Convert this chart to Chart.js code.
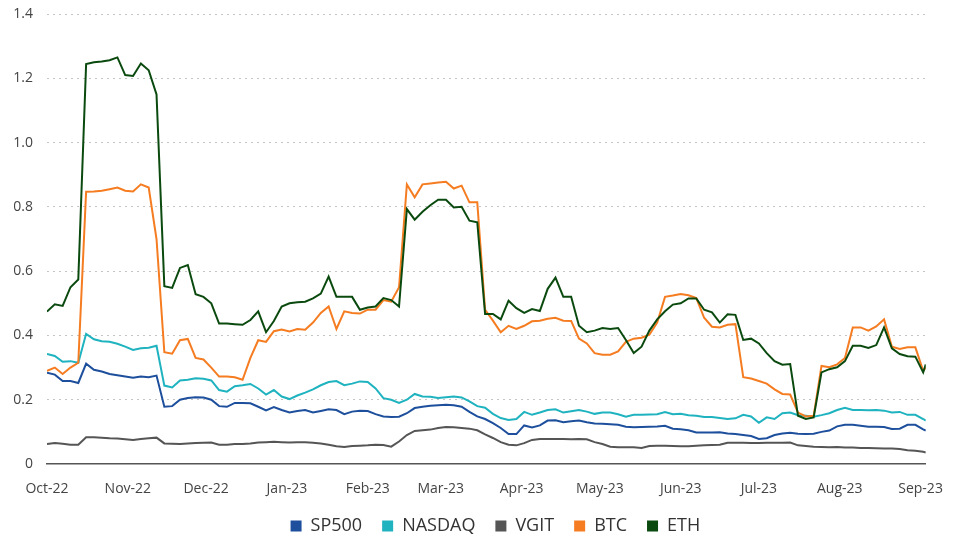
<!DOCTYPE html>
<html>
<head>
<meta charset="utf-8">
<script src="https://cdn.jsdelivr.net/npm/chart.js@4/dist/chart.umd.min.js"></script>
<style>
  html, body { margin: 0; padding: 0; background: #fff; }
  #wrap { width: 960px; height: 540px; }
</style>
</head>
<body>
<div id="wrap"><canvas id="chart"></canvas></div>
<script>
// ==== Data (days since 1 Oct 2022) ====
const days = [0,3,6,9,12,15,18,21,24,27,30,33,36,39,42,45,48,51,54,57,60,63,66,69,72,75,78,81,84,87,
  90,93,96,99,102,105,108,111,114,117,120,123,126,129,132,135,138,141,144,147,150,153,156,159,162,165,168,171,174,177,
  180,183,186,189,192,195,198,201,204,207,210,213,216,219,222,225,228,231,234,237,240,243,246,249,252,255,258,261,264,267,
  270,273,276,279,282,285,288,291,294,297,300,303,306,309,312,315,318,321,324,327,330,333,336,337];

const monthDays = [0,31,61,92,123,151,182,212,243,273,304,335];
const monthLabels = ['Oct-22','Nov-22','Dec-22','Jan-23','Feb-23','Mar-23','Apr-23','May-23','Jun-23','Jul-23','Aug-23','Sep-23'];

const sp500 = [0.284,0.278,0.258,0.258,0.252,0.312,0.293,0.288,0.280,0.276,0.272,0.268,0.272,0.270,0.275,0.178,0.180,0.200,0.205,0.208,
  0.207,0.200,0.180,0.178,0.190,0.190,0.189,0.178,0.167,0.177,0.168,0.160,0.165,0.168,0.160,0.165,0.170,0.168,0.155,0.163,
  0.166,0.165,0.155,0.148,0.146,0.147,0.158,0.174,0.178,0.181,0.183,0.184,0.183,0.178,0.162,0.148,0.140,0.127,0.112,0.093,
  0.093,0.120,0.114,0.120,0.135,0.136,0.130,0.133,0.135,0.130,0.126,0.125,0.124,0.122,0.116,0.114,0.115,0.116,0.117,0.119,
  0.110,0.108,0.105,0.098,0.098,0.098,0.099,0.095,0.093,0.090,0.087,0.078,0.080,0.090,0.095,0.097,0.094,0.093,0.094,0.100,
  0.104,0.117,0.122,0.122,0.119,0.116,0.116,0.115,0.109,0.110,0.122,0.122,0.108,0.104];

const nasdaq = [0.342,0.336,0.318,0.320,0.315,0.405,0.388,0.382,0.380,0.374,0.365,0.355,0.360,0.362,0.368,0.244,0.238,0.260,0.262,0.267,
  0.265,0.260,0.230,0.225,0.242,0.245,0.249,0.235,0.216,0.230,0.210,0.202,0.213,0.222,0.232,0.245,0.255,0.258,0.245,0.250,
  0.257,0.255,0.235,0.205,0.200,0.190,0.200,0.218,0.210,0.209,0.205,0.208,0.210,0.207,0.195,0.180,0.175,0.156,0.143,0.137,
  0.140,0.162,0.153,0.160,0.168,0.170,0.160,0.164,0.168,0.163,0.156,0.160,0.160,0.155,0.147,0.153,0.153,0.154,0.155,0.162,
  0.155,0.156,0.152,0.150,0.146,0.146,0.143,0.140,0.142,0.153,0.148,0.128,0.145,0.140,0.158,0.160,0.152,0.150,0.147,0.152,
  0.158,0.168,0.175,0.168,0.168,0.167,0.168,0.166,0.160,0.162,0.153,0.153,0.140,0.135];

const vgit = [0.062,0.065,0.063,0.060,0.060,0.083,0.083,0.082,0.080,0.079,0.077,0.075,0.078,0.080,0.082,0.064,0.063,0.062,0.064,0.065,
  0.066,0.067,0.060,0.060,0.062,0.062,0.064,0.067,0.068,0.069,0.068,0.067,0.068,0.068,0.066,0.064,0.060,0.055,0.053,0.056,
  0.057,0.058,0.060,0.059,0.054,0.070,0.090,0.103,0.105,0.107,0.112,0.115,0.114,0.112,0.110,0.105,0.092,0.081,0.068,0.060,
  0.058,0.065,0.075,0.078,0.078,0.078,0.078,0.077,0.078,0.077,0.068,0.062,0.054,0.052,0.052,0.052,0.050,0.056,0.057,0.057,
  0.056,0.055,0.055,0.057,0.058,0.059,0.060,0.066,0.066,0.066,0.065,0.065,0.066,0.066,0.066,0.067,0.058,0.056,0.054,0.053,
  0.052,0.053,0.051,0.051,0.050,0.050,0.049,0.048,0.048,0.047,0.043,0.041,0.038,0.036];

const btc = [0.290,0.300,0.280,0.300,0.315,0.847,0.848,0.850,0.855,0.860,0.850,0.848,0.870,0.860,0.700,0.348,0.343,0.385,0.389,0.330,
  0.325,0.300,0.272,0.272,0.270,0.262,0.330,0.385,0.380,0.413,0.418,0.412,0.420,0.418,0.440,0.470,0.490,0.420,0.475,0.470,
  0.468,0.480,0.480,0.510,0.505,0.550,0.870,0.830,0.870,0.873,0.876,0.878,0.857,0.866,0.814,0.814,0.480,0.446,0.410,0.430,
  0.420,0.430,0.444,0.446,0.452,0.455,0.446,0.445,0.390,0.375,0.345,0.340,0.340,0.350,0.380,0.390,0.393,0.402,0.440,0.520,
  0.524,0.529,0.525,0.516,0.455,0.427,0.425,0.433,0.435,0.270,0.266,0.258,0.250,0.232,0.218,0.216,0.160,0.148,0.150,0.305,
  0.301,0.310,0.330,0.425,0.425,0.415,0.428,0.450,0.365,0.358,0.363,0.363,0.290,0.300];

const eth = [0.474,0.497,0.492,0.550,0.574,1.244,1.250,1.252,1.256,1.265,1.210,1.207,1.246,1.225,1.150,0.553,0.548,0.610,0.619,0.528,
  0.520,0.500,0.437,0.437,0.435,0.433,0.448,0.475,0.410,0.445,0.490,0.500,0.503,0.505,0.515,0.530,0.583,0.520,0.520,0.520,
  0.480,0.487,0.490,0.516,0.510,0.490,0.793,0.760,0.785,0.805,0.822,0.822,0.798,0.800,0.757,0.752,0.467,0.467,0.450,0.508,
  0.485,0.470,0.482,0.476,0.545,0.580,0.520,0.520,0.430,0.410,0.415,0.423,0.420,0.423,0.386,0.345,0.365,0.415,0.450,0.475,
  0.496,0.500,0.515,0.515,0.480,0.472,0.440,0.466,0.464,0.386,0.390,0.375,0.345,0.320,0.309,0.311,0.150,0.140,0.145,0.285,
  0.295,0.301,0.320,0.368,0.368,0.361,0.370,0.425,0.360,0.342,0.335,0.334,0.285,0.310];

const seriesNames = ['SP500','NASDAQ','VGIT','BTC','ETH'];
const seriesColors = ['#1d4f9c','#1fb3c0','#555555','#f57c20','#0b4a0f'];
const seriesValues = [sp500, nasdaq, vgit, btc, eth];

// ==== Chart ====
Chart.defaults.font.family = "'Open Sans', sans-serif";

// legend sits centred under the plot area, a little to the right
const shiftLegend = {
  id: 'shiftLegend',
  afterLayout(c) {
    const dx = (c.chartArea.left + c.chartArea.right) / 2 + 9 - (c.legend.left + c.legend.right) / 2;
    c.legend.left += dx;
    c.legend.right += dx;
  }
};

const ctx = document.getElementById('chart').getContext('2d');
const chart = new Chart(ctx, {
  type: 'line',
  data: {
    datasets: seriesNames.map((name, i) => ({
      label: name,
      data: seriesValues[i].map((v, j) => ({ x: days[j], y: v })),
      borderColor: seriesColors[i],
      backgroundColor: seriesColors[i],
      borderWidth: 2,
      pointRadius: 0,
      tension: 0,
      fill: false,
      order: seriesNames.length - i
    }))
  },
  options: {
    responsive: true,
    maintainAspectRatio: false,
    animation: false,
    layout: { padding: { top: 14, right: 20, left: 0, bottom: 0 } },
    plugins: {
      tooltip: { enabled: false },
      legend: {
        position: 'bottom',
        maxHeight: 43,
        labels: {
          color: '#333',
          font: { size: 18 },
          boxWidth: 11,
          boxHeight: 11,
          padding: 20,
          sort: (a, b) => a.datasetIndex - b.datasetIndex,
          generateLabels: c => Chart.defaults.plugins.legend.labels.generateLabels(c).map(l => ({ ...l, lineWidth: 0 }))
        }
      }
    },
    scales: {
      x: {
        type: 'linear',
        min: 0,
        max: 337,
        grid: { display: false, drawTicks: false },
        border: { display: true, color: '#555', width: 1.5 },
        afterBuildTicks: s => { s.ticks = monthDays.map(v => ({ value: v })); },
        afterFit: s => { s.height = 33; },
        ticks: {
          autoSkip: false,
          maxRotation: 0,
          padding: 17,
          color: '#444',
          font: { size: 14 },
          callback: v => monthLabels[monthDays.indexOf(v)] || ''
        }
      },
      y: {
        min: 0,
        max: 1.4,
        afterFit: s => { s.width = 47; s.paddingTop = 0; s.paddingBottom = 0; },
        grid: {
          drawTicks: false,
          color: c => c.tick && c.tick.value === 0 ? 'rgba(0,0,0,0)' : '#c4c4c4'
        },
        border: { display: false, dash: [2, 4] },
        ticks: {
          stepSize: 0.2,
          padding: 14,
          color: '#444',
          font: { size: 14 },
          callback: v => v === 0 ? '0' : v.toFixed(1)
        }
      }
    }
  },
  plugins: [shiftLegend]
});
</script>
</body>
</html>
